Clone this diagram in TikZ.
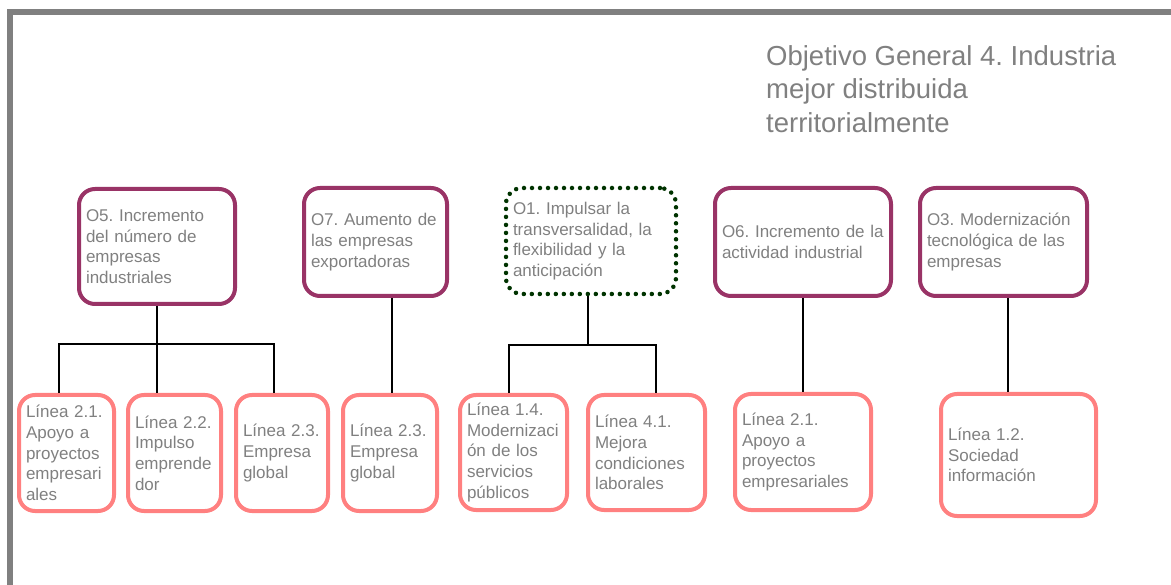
\documentclass[tikz,border=0pt]{standalone}
\usepackage{fontspec}
\setmainfont{Liberation Sans}
\definecolor{objcol}{RGB}{153,51,102}
\definecolor{lincol}{RGB}{255,128,128}
\definecolor{dotcol}{RGB}{0,51,0}
\definecolor{txtcol}{RGB}{128,128,128}
\hyphenpenalty=10000
\exhyphenpenalty=10000
\frenchspacing
\begin{document}
\begin{tikzpicture}[x=1pt, y=-1pt,
    box/.style = {rounded corners=16pt, line width=4pt, align=left,
      inner xsep=7pt, inner ysep=0pt, text=txtcol,
      font=\fontsize{17}{20.7}\selectfont},
    sz/.style 2 args = {minimum width=#1pt, text width=#1pt-14pt, minimum height=#2pt},
    obj/.style = {box, draw=objcol},
    lin/.style = {box, draw=lincol},
    link/.style = {line width=2pt}]
  \useasboundingbox (0,0) rectangle (1171,585);
  \draw[line width=6pt, color=txtcol] (1171,12) -- (10,12) -- (10,585);

  \node[anchor=north west, inner sep=0pt, align=left, text=txtcol,
    font=\fontsize{27.5}{33.5}\selectfont] (title) at (766,45)
    {Objetivo General 4. Industria\\mejor distribuida\\territorialmente};

  % objetivos
  \node[obj, sz={156}{115}] (o5) at (157,246.5) {O5. Incremento\\del número de\\empresas\\industriales};
  \node[obj, sz={143}{108}] (o7) at (375.5,242) {O7. Aumento de\\las empresas\\exportadoras};
  \node[box, sz={170}{106}, draw=dotcol, dash pattern=on 0pt off 8pt, line cap=round,
    line width=4.5pt] (o1) at (591,241) {O1. Impulsar la\\transversalidad, la\\flexibilidad y la\\anticipación};
  \node[obj, sz={176}{108}] (o6) at (803,242) {O6. Incremento de la\\actividad industrial};
  \node[obj, sz={167}{108}] (o3) at (1003.5,242) {O3. Modernización\\tecnológica de las\\empresas};

  % lineas
  \node[lin, sz={95}{116}] (l21a) at (66.5,453) {Línea 2.1.\\Apoyo a\\proyectos\\empresari\\ales};
  \node[lin, sz={93}{116}] (l22) at (174.5,453) {Línea 2.2.\\Impulso\\emprende\\dor};
  \node[lin, sz={92}{116}] (l23a) at (282,453) {Línea 2.3.\\Empresa\\global};
  \node[lin, sz={94}{116}] (l23b) at (390,453) {Línea 2.3.\\Empresa\\global};
  \node[lin, sz={107}{115}] (l14) at (513.5,452.5) {Línea 1.4.\\Modernizaci\\ón de los\\servicios\\públicos};
  \node[lin, sz={117}{115}] (l41) at (646.5,452.5) {Línea 4.1.\\Mejora\\condiciones\\laborales};
  \node[lin, sz={136}{116}] (l21b) at (803,452) {Línea 2.1.\\Apoyo a\\proyectos\\empresariales};
  \node[lin, sz={155}{122}] (l12) at (1018.5,455) {Línea 1.2.\\Sociedad\\información};

  % conectores
  \coordinate (j5) at (157,344);
  \coordinate (j7) at (392,344);
  \coordinate (j1) at (588,345);
  \coordinate (j6) at (803,344);
  \coordinate (j3) at (1008,344);
  \draw[link] (o5.south -| j5) -- (j5);
  \draw[link] ([xshift=-7.5pt]l21a.north) |- (j5) -| ([xshift=-8pt]l23a.north);
  \draw[link] (j5) -- (l22.north -| j5);
  \draw[link] (o7.south -| j7) -- (l23b.north -| j7);
  \draw[link] (o1.south -| j1) -- (j1);
  \draw[link] ([xshift=-4.5pt]l14.north) |- (j1) -| ([xshift=9.5pt]l41.north);
  \draw[link] (o6.south -| j6) -- (l21b.north -| j6);
  \draw[link] (o3.south -| j3) -- (l12.north -| j3);
\end{tikzpicture}
\end{document}
